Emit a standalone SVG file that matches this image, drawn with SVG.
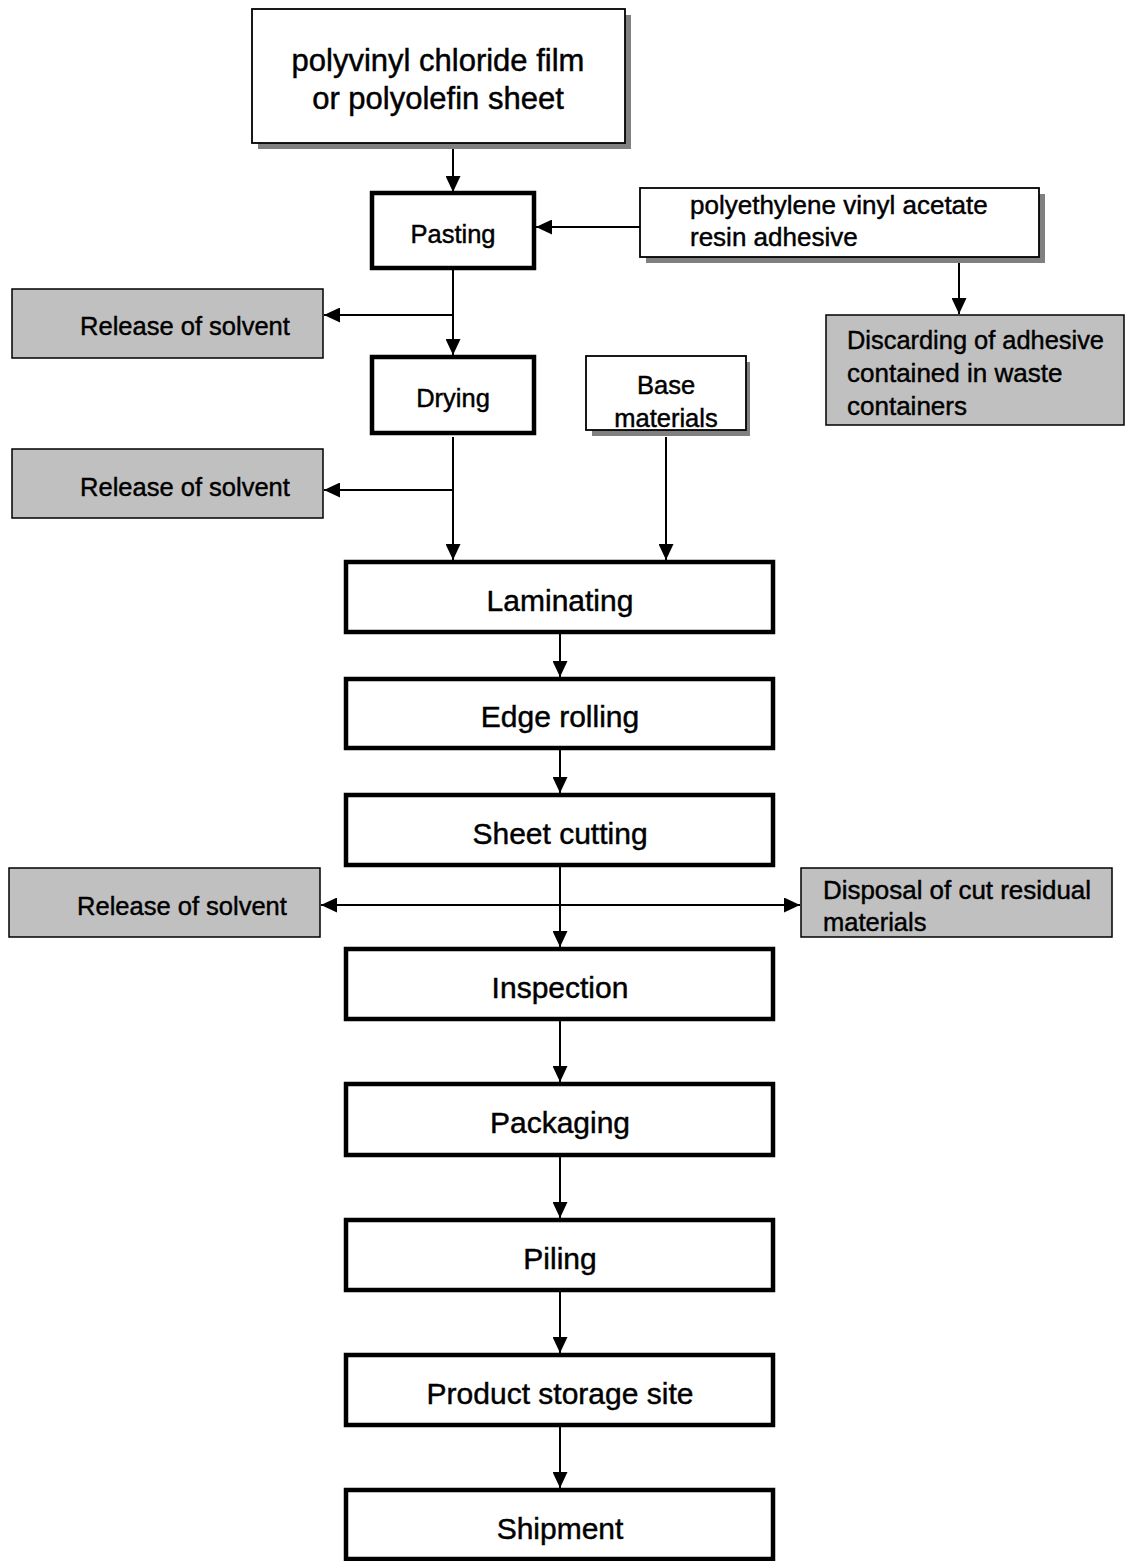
<svg xmlns="http://www.w3.org/2000/svg" width="1125" height="1561" viewBox="0 0 1125 1561">
<style>
text{font-family:"Liberation Sans",Arial,sans-serif;fill:#000;stroke:#000;stroke-width:0.45}
.c{text-anchor:middle}
.thick{fill:#fff;stroke:#000;stroke-width:4.5}
.thin{fill:#fff;stroke:#000;stroke-width:1.8}
.gray{fill:#c0c0c0;stroke:#000;stroke-width:1.5}
.shadow{fill:#808080}
.ln{stroke:#000;stroke-width:2;fill:none}
.f31{font-size:31px}.f30{font-size:30px}.f26{font-size:26px}.f25{font-size:25.5px}
</style>
<defs>
<marker id="ah" markerUnits="userSpaceOnUse" markerWidth="16" markerHeight="15" refX="16" refY="7.5" orient="auto-start-reverse" viewBox="0 0 16 15">
<path d="M0,0 L16,7.5 L0,15 Z" fill="#000"/>
</marker>
</defs>
<rect width="1125" height="1561" fill="#fff"/>
<g id="connectors">
<line class="ln" x1="453" y1="149" x2="453" y2="192" marker-end="url(#ah)"/>
<line class="ln" x1="640" y1="227" x2="536" y2="227" marker-end="url(#ah)"/>
<line class="ln" x1="959" y1="263" x2="959" y2="314" marker-end="url(#ah)"/>
<line class="ln" x1="453" y1="270" x2="453" y2="355" marker-end="url(#ah)"/>
<line class="ln" x1="453" y1="315" x2="324" y2="315" marker-end="url(#ah)"/>
<line class="ln" x1="453" y1="437" x2="453" y2="560" marker-end="url(#ah)"/>
<line class="ln" x1="453" y1="490" x2="324" y2="490" marker-end="url(#ah)"/>
<line class="ln" x1="666" y1="437" x2="666" y2="560" marker-end="url(#ah)"/>
<line class="ln" x1="560" y1="634" x2="560" y2="677" marker-end="url(#ah)"/>
<line class="ln" x1="560" y1="750" x2="560" y2="793" marker-end="url(#ah)"/>
<line class="ln" x1="560" y1="867" x2="560" y2="947" marker-end="url(#ah)"/>
<line class="ln" x1="321" y1="905" x2="800" y2="905" marker-start="url(#ah)" marker-end="url(#ah)"/>
<line class="ln" x1="560" y1="1021" x2="560" y2="1082" marker-end="url(#ah)"/>
<line class="ln" x1="560" y1="1157" x2="560" y2="1218" marker-end="url(#ah)"/>
<line class="ln" x1="560" y1="1292" x2="560" y2="1353" marker-end="url(#ah)"/>
<line class="ln" x1="560" y1="1427" x2="560" y2="1488" marker-end="url(#ah)"/>
</g>
<g id="n-film">
<rect class="shadow" x="258" y="15" width="373" height="134"/>
<rect class="thin" x="252" y="9" width="373" height="134"/>
<text class="c f31" x="438" y="71">polyvinyl chloride film</text>
<text class="c f31" x="438" y="109">or polyolefin sheet</text>
</g>
<g id="n-pasting">
<rect class="thick" x="372" y="193" width="162" height="75"/>
<text class="c f25" x="453" y="243">Pasting</text>
</g>
<g id="n-adhesive">
<rect class="shadow" x="646" y="194" width="399" height="69"/>
<rect class="thin" x="640" y="188" width="399" height="69"/>
<text class="f26" x="690" y="214">polyethylene vinyl acetate</text>
<text class="f26" x="690" y="246">resin adhesive</text>
</g>
<g id="n-discard">
<rect class="gray" x="826" y="315" width="298" height="110"/>
<text class="f26" x="847" y="349" textLength="257" lengthAdjust="spacingAndGlyphs">Discarding of adhesive</text>
<text class="f26" x="847" y="382">contained in waste</text>
<text class="f26" x="847" y="415">containers</text>
</g>
<g id="n-release1">
<rect class="gray" x="12" y="289" width="311" height="69"/>
<text class="c f25" x="185" y="335">Release of solvent</text>
</g>
<g id="n-drying">
<rect class="thick" x="372" y="357" width="162" height="76"/>
<text class="c f25" x="453" y="407">Drying</text>
</g>
<g id="n-base">
<rect class="shadow" x="592" y="362" width="158" height="74"/>
<rect class="thin" x="586" y="356" width="160" height="74"/>
<text class="c f25" x="666" y="394">Base</text>
<text class="c f25" x="666" y="427">materials</text>
</g>
<g id="n-release2">
<rect class="gray" x="12" y="449" width="311" height="69"/>
<text class="c f25" x="185" y="496">Release of solvent</text>
</g>
<g id="n-laminating">
<rect class="thick" x="346" y="562" width="427" height="70"/>
<text class="c f30" x="560" y="611">Laminating</text>
</g>
<g id="n-edge">
<rect class="thick" x="346" y="679" width="427" height="69"/>
<text class="c f30" x="560" y="727">Edge rolling</text>
</g>
<g id="n-sheet">
<rect class="thick" x="346" y="795" width="427" height="70"/>
<text class="c f30" x="560" y="844">Sheet cutting</text>
</g>
<g id="n-release3">
<rect class="gray" x="9" y="868" width="311" height="69"/>
<text class="c f25" x="182" y="915">Release of solvent</text>
</g>
<g id="n-disposal">
<rect class="gray" x="801" y="868" width="311" height="69"/>
<text class="f25" x="823" y="899" textLength="268" lengthAdjust="spacingAndGlyphs">Disposal of cut residual</text>
<text class="f25" x="823" y="931">materials</text>
</g>
<g id="n-inspection">
<rect class="thick" x="346" y="949" width="427" height="70"/>
<text class="c f30" x="560" y="998">Inspection</text>
</g>
<g id="n-packaging">
<rect class="thick" x="346" y="1084" width="427" height="71"/>
<text class="c f30" x="560" y="1133">Packaging</text>
</g>
<g id="n-piling">
<rect class="thick" x="346" y="1220" width="427" height="70"/>
<text class="c f30" x="560" y="1269">Piling</text>
</g>
<g id="n-storage">
<rect class="thick" x="346" y="1355" width="427" height="70"/>
<text class="c f30" x="560" y="1404">Product storage site</text>
</g>
<g id="n-shipment">
<rect class="thick" x="346" y="1490" width="427" height="69"/>
<text class="c f30" x="560" y="1539">Shipment</text>
</g>
</svg>
